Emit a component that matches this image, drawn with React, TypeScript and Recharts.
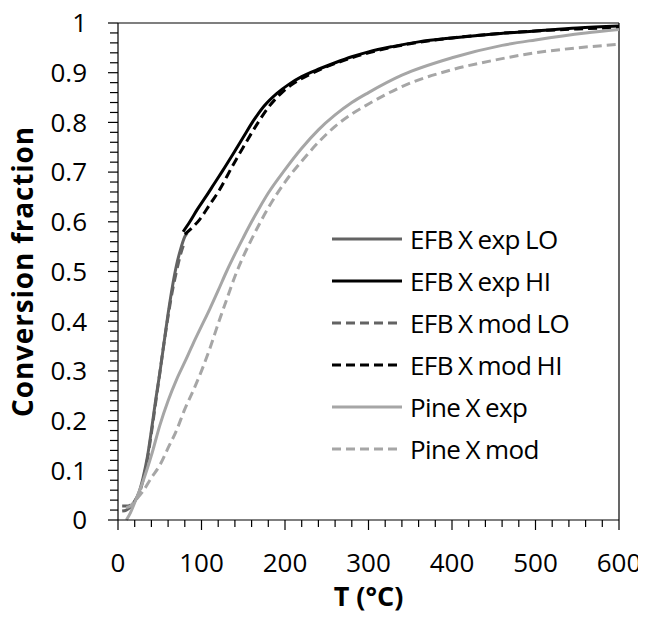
import { LineChart, Line, XAxis, YAxis, ReferenceLine, Legend } from 'recharts';

// [T (°C), conversion fraction]
const efbExpLo = [
  [5, 0.018], [10, 0.02], [15, 0.026], [20, 0.038], [25, 0.055], [30, 0.085], [35, 0.125],
  [40, 0.18], [45, 0.24], [50, 0.295], [55, 0.355], [60, 0.415], [65, 0.468], [70, 0.512],
  [75, 0.545], [80, 0.57], [83, 0.578],
];
const efbExpHi = [
  [78, 0.58], [86, 0.6], [95, 0.625], [105, 0.65], [115, 0.676], [125, 0.702], [138, 0.737],
  [150, 0.77], [162, 0.803], [175, 0.833], [190, 0.858], [205, 0.877], [220, 0.892],
  [240, 0.907], [260, 0.92], [280, 0.932], [300, 0.942], [330, 0.953], [360, 0.962],
  [400, 0.97], [450, 0.978], [500, 0.984], [550, 0.99], [600, 0.994],
];
const efbModLo = [
  [5, 0.028], [10, 0.028], [15, 0.03], [20, 0.038], [25, 0.052], [30, 0.08], [35, 0.12],
  [40, 0.175], [45, 0.235], [50, 0.295], [55, 0.355], [60, 0.41], [65, 0.46], [70, 0.5],
  [75, 0.535], [80, 0.56],
];
const efbModHi = [
  [80, 0.575], [90, 0.59], [98, 0.605], [110, 0.635], [120, 0.66], [138, 0.715], [150, 0.75],
  [166, 0.795], [180, 0.83], [195, 0.858], [210, 0.878], [230, 0.897], [250, 0.912],
  [280, 0.93], [300, 0.94], [330, 0.952], [360, 0.961], [400, 0.97], [450, 0.978],
  [500, 0.984], [550, 0.988], [600, 0.991],
];
const pineExp = [
  [10, 0.0], [15, 0.015], [20, 0.035], [30, 0.078], [40, 0.13], [50, 0.19], [60, 0.24],
  [70, 0.282], [80, 0.318], [90, 0.355], [100, 0.39], [110, 0.425], [120, 0.462], [130, 0.5],
  [140, 0.535], [150, 0.568], [160, 0.6], [170, 0.63], [180, 0.658], [200, 0.705],
  [220, 0.748], [240, 0.785], [260, 0.815], [280, 0.84], [300, 0.86], [340, 0.895],
  [400, 0.93], [460, 0.955], [500, 0.966], [560, 0.98], [600, 0.987],
];
const pineMod = [
  [10, 0.025], [15, 0.028], [20, 0.038], [30, 0.058], [40, 0.085], [50, 0.11], [60, 0.145],
  [70, 0.18], [80, 0.223], [90, 0.26], [100, 0.3], [110, 0.345], [120, 0.395], [130, 0.443],
  [140, 0.49], [150, 0.53], [160, 0.565], [180, 0.628], [200, 0.68], [220, 0.722],
  [240, 0.76], [260, 0.792], [280, 0.817], [300, 0.837], [340, 0.872], [400, 0.906],
  [450, 0.925], [500, 0.94], [550, 0.95], [600, 0.957],
];

const xMajor = [0, 100, 200, 300, 400, 500, 600];
const yMajor = [0, 0.1, 0.2, 0.3, 0.4, 0.5, 0.6, 0.7, 0.8, 0.9, 1];
const xMinor = Array.from({ length: 31 }, (_, i) => i * 20);
const yMinor = Array.from({ length: 51 }, (_, i) => Math.round(i * 2) / 100);

const series = [
  { name: 'EFB X exp LO', pts: efbExpLo, color: '#636363', dash: undefined },
  { name: 'EFB X exp HI', pts: efbExpHi, color: '#000000', dash: undefined },
  { name: 'EFB X mod LO', pts: efbModLo, color: '#636363', dash: '9 5' },
  { name: 'EFB X mod HI', pts: efbModHi, color: '#000000', dash: '9 5' },
  { name: 'Pine X exp', pts: pineExp, color: '#a6a6a6', dash: undefined },
  { name: 'Pine X mod', pts: pineMod, color: '#a6a6a6', dash: '9 5' },
];

const FONT = '"Open Sans", sans-serif';

const isMajor = (v: number, list: number[]) => list.some((m) => Math.abs(m - v) < 1e-6);

const YTick = ({ x, y, payload }: any) => {
  const major = isMajor(payload.value, yMajor);
  return (
    <g>
      <line x1={x - (major ? 10 : 8)} x2={x} y1={y} y2={y} stroke="#000" strokeWidth={1.2} />
      {major && (
        <text x={x - 31} y={y} dy="0.36em" textAnchor="end" fontSize={26} fontFamily={FONT} fill="#000">
          {String(Math.round(payload.value * 10) / 10)}
        </text>
      )}
    </g>
  );
};

const XTick = ({ x, y, payload }: any) => {
  const major = isMajor(payload.value, xMajor);
  return (
    <g>
      <line x1={x} x2={x} y1={y} y2={y + (major ? 10 : 7)} stroke="#000" strokeWidth={1.2} />
      {major && (
        <text x={x} y={y + 43} dy="0.36em" textAnchor="middle" fontSize={26} fontFamily={FONT} fill="#000">
          {payload.value}
        </text>
      )}
    </g>
  );
};

const LegendBox = () => (
  <div style={{ fontFamily: FONT, fontSize: 26, color: '#000', letterSpacing: '-0.6px', wordSpacing: '-1px' }}>
    {series.map((s) => (
      <div key={s.name} style={{ display: 'flex', alignItems: 'center', height: 42, whiteSpace: 'nowrap' }}>
        <svg width={78} height={10}>
          <line x1={0} x2={70} y1={5} y2={5} stroke={s.color} strokeWidth={3} strokeDasharray={s.dash} />
        </svg>
        <span>{s.name}</span>
      </div>
    ))}
  </div>
);

export default function App() {
  return (
    <div style={{ margin: '-8px 0 0 -8px' }}>
      <LineChart width={646} height={621} margin={{ top: 23, right: 27, bottom: 0, left: 0 }}>
        <XAxis
          type="number"
          dataKey="T"
          domain={[0, 600]}
          ticks={xMinor}
          interval={0}
          tickSize={0}
          tickMargin={0}
          height={101}
          tick={<XTick />}
          axisLine={{ stroke: '#000', strokeWidth: 1.2 }}
          label={{ value: 'T (°C)', position: 'insideBottom', offset: 15, style: { fontFamily: FONT, fontSize: 27, fontWeight: 'bold', fill: '#000' } }}
        />
        <YAxis
          type="number"
          domain={[0, 1]}
          ticks={yMinor}
          interval={0}
          tickSize={0}
          tickMargin={0}
          width={118}
          tick={<YTick />}
          axisLine={{ stroke: '#000', strokeWidth: 1.2 }}
          label={{ value: 'Conversion fraction', angle: -90, position: 'insideLeft', offset: 23, style: { textAnchor: 'middle', fontFamily: FONT, fontSize: 28, fontWeight: 'bold', letterSpacing: '0.8px', fill: '#000' } }}
        />
        <ReferenceLine y={1} stroke="#000" strokeWidth={1.2} />
        <ReferenceLine x={600} stroke="#000" strokeWidth={1.2} />
        {series.map((s) => (
          <Line
            key={s.name}
            name={s.name}
            data={s.pts.map(([T, X]) => ({ T, X }))}
            dataKey="X"
            type="monotone"
            stroke={s.color}
            strokeWidth={3}
            strokeDasharray={s.dash}
            dot={false}
            isAnimationActive={false}
          />
        ))}
        <Legend
          layout="vertical"
          align="center"
          verticalAlign="middle"
          content={<LegendBox />}
          wrapperStyle={{ left: 332, top: 218, width: 'auto' }}
        />
      </LineChart>
    </div>
  );
}
